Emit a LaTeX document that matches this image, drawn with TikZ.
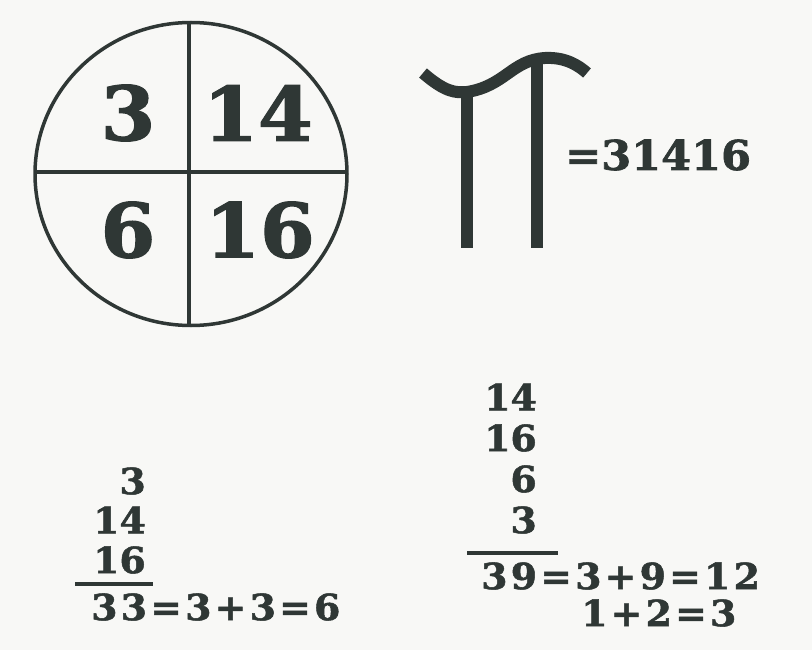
\documentclass[tikz,border=0pt]{standalone}
\usepackage{fontspec}
\usetikzlibrary{shapes.geometric}
\newfontfamily\numfont{DejaVu Serif}[FakeStretch=1.05,FakeBold=1.6]
\newfontfamily\sumfont{DejaVu Serif}[FakeStretch=1.05,FakeBold=1.4,LetterSpace=9]
\newfontfamily\stackfont{DejaVu Serif}[FakeStretch=1.05,FakeBold=1.4]
\definecolor{ink}{HTML}{2F3735}
\definecolor{paper}{HTML}{F8F8F6}
\tikzset{
  big/.style={text=ink,inner sep=0pt,font=\numfont\bfseries\fontsize{75}{80}\selectfont},
  mid/.style={text=ink,inner sep=0pt,font=\numfont\bfseries\fontsize{41}{46}\selectfont},
  small/.style={text=ink,inner sep=0pt,font=\stackfont\bfseries\fontsize{36}{40}\selectfont},
  eqn/.style={text=ink,inner sep=0pt,font=\sumfont\bfseries\fontsize{36}{40}\selectfont},
  rule/.style={draw=ink,line width=4pt},
  pistroke/.style={draw=ink,line width=12pt}
}
\begin{document}
\begin{tikzpicture}[x=1pt,y=-1pt]
\useasboundingbox[fill=paper] (0,0) rectangle (812,650);
% circle with cross
\node[draw=ink,line width=3.5pt,ellipse,minimum width=312pt,minimum height=303pt,inner sep=0pt] (circ) at (191,174) {};
\coordinate (vt) at (189,22);
\coordinate (vb) at (189,326);
\coordinate (hl) at (35,172);
\coordinate (hr) at (347,172);
\draw[draw=ink,line width=3.5pt] (vt) -- (vb);
\draw[draw=ink,line width=3.5pt] (hl) -- (hr);
\node[big] (q1) at (128,113) {3};
\node[big] (q2) at (258,113) {14};
\node[big] (q3) at (128,230) {6};
\node[big] (q4) at (260,230) {16};
% pi symbol
\coordinate (w0) at (423,73);
\coordinate (w1) at (467,92);
\coordinate (w3) at (587,73);
\coordinate (lb) at (467,248);
\coordinate (rt) at (537,60);
\coordinate (rb) at (537,248);
\draw[pistroke] (w0) .. controls (445,92) and (455,93) .. (w1) .. controls (505,86) and (512,60) .. (545,58) .. controls (565,57) and (578,65) .. (w3);
\draw[pistroke] (w1) -- (lb);
\draw[pistroke] (rt) -- (rb);
\node[mid,anchor=west] (pival) at (565,155) {=31416};
% left sum
\node[small,anchor=east] (a1) at (146,481) {3};
\node[small,anchor=east] (a2) at (146,520) {14};
\node[small,anchor=east] (a3) at (146,560) {16};
\coordinate (al) at (75,584);
\coordinate (ar) at (153,584);
\draw[rule] (al) -- (ar);
\node[eqn,anchor=west] (asum) at (91,607) {33=3+3=6};
% right sum
\node[small,anchor=east] (b1) at (537,397) {14};
\node[small,anchor=east] (b2) at (537,438) {16};
\node[small,anchor=east] (b3) at (537,479) {6};
\node[small,anchor=east] (b4) at (537,520) {3};
\coordinate (bl) at (467,553);
\coordinate (br) at (558,553);
\draw[rule] (bl) -- (br);
\node[eqn,anchor=west] (bsum) at (481,576) {39=3+9=12};
\node[eqn,anchor=west] (bsum2) at (581,613) {1+2=3};
\end{tikzpicture}
\end{document}
